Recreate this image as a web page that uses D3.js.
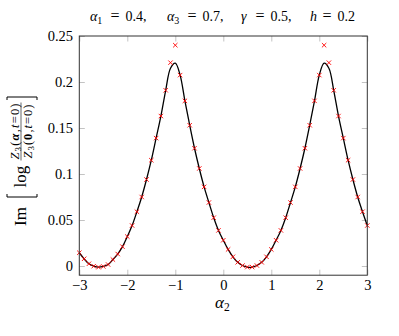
<!DOCTYPE html>
<html>
<head>
<meta charset="utf-8">
<script src="https://cdn.jsdelivr.net/npm/d3@7"></script>
</head>
<body style="margin:0;background:#fff">
<script>
const config = {
  width: 399,
  height: 336,
  left: 79.3,
  right: 367.3,
  top: 36,
  bottom: 275.2,
  font: '"Liberation Serif"'
};

// Data
const markAlpha = [
  -3.0, -2.9, -2.8, -2.7, -2.6, -2.5, -2.4, -2.3, -2.2, -2.1,
  -2.0, -1.9, -1.8, -1.7, -1.6, -1.5, -1.4, -1.3, -1.2, -1.1,
  -1.0, -0.9, -0.8, -0.7, -0.6, -0.5, -0.4, -0.3, -0.2, -0.1,
  0.0, 0.1, 0.2, 0.3, 0.4, 0.5, 0.6, 0.7, 0.8, 0.9,
  1.0, 1.1, 1.2, 1.3, 1.4, 1.5, 1.6, 1.7, 1.8, 1.9,
  2.0, 2.1, 2.2, 2.3, 2.4, 2.5, 2.6, 2.7, 2.8, 2.9, 3.0
];
const markValues = [
  0.0144, 0.0078, 0.0024, -0.0002, -0.0013, -0.0005, 0.0016, 0.007, 0.013, 0.021,
  0.032, 0.044, 0.059, 0.075, 0.094, 0.115, 0.139, 0.163, 0.191, 0.221,
  0.240, 0.2075, 0.1795, 0.153, 0.128, 0.106, 0.086, 0.069, 0.0525, 0.0387,
  0.028, 0.018, 0.010, 0.004, 0.0005, -0.0012, -0.0012, 0.0005, 0.004, 0.010,
  0.018, 0.028, 0.0387, 0.0525, 0.069, 0.086, 0.106, 0.128, 0.153, 0.1795,
  0.2075, 0.240, 0.221, 0.191, 0.163, 0.139, 0.115, 0.094, 0.075, 0.059, 0.044
];
const lineAlpha = markAlpha;
const lineValues = [
  0.0144, 0.0078, 0.0024, -0.0002, -0.0013, -0.0005, 0.0016, 0.007, 0.013, 0.021,
  0.032, 0.044, 0.059, 0.075, 0.094, 0.115, 0.139, 0.163, 0.191, 0.215,
  0.2205, 0.2075, 0.1795, 0.153, 0.128, 0.106, 0.086, 0.069, 0.0525, 0.0387,
  0.028, 0.018, 0.010, 0.004, 0.0005, -0.0012, -0.0012, 0.0005, 0.004, 0.010,
  0.018, 0.028, 0.0387, 0.0525, 0.069, 0.086, 0.106, 0.128, 0.153, 0.1795,
  0.2075, 0.2205, 0.215, 0.191, 0.163, 0.139, 0.115, 0.094, 0.075, 0.059, 0.044
];
const xTicks = [-3, -2, -1, 0, 1, 2, 3];
const xTickLabels = ["\u22123", "\u22122", "\u22121", "0", "1", "2", "3"];
const yTicks = [0, 0.05, 0.1, 0.15, 0.2, 0.25];
const yTickLabels = ["0", "0.05", "0.1", "0.15", "0.2", "0.25"];

// Define the canvas
const svg = d3
  .select("body")
  .append("svg")
  .attr("width", config.width)
  .attr("height", config.height)
  .style("font-family", config.font);

const x = d3.scaleLinear().domain([-3, 3]).range([config.left, config.right]);
const y = d3.scaleLinear().domain([-0.01, 0.25]).range([config.bottom, config.top]);

// Axes (ticks point inward, on all four sides)
const tickLen = 5.5;
const axes = [
  { axis: d3.axisBottom(x).tickValues(xTicks).tickFormat((d, i) => xTickLabels[i]).tickPadding(5), at: `translate(0,${config.bottom})` },
  { axis: d3.axisTop(x).tickValues(xTicks).tickFormat(""), at: `translate(0,${config.top})` },
  { axis: d3.axisLeft(y).tickValues(yTicks).tickFormat((d, i) => yTickLabels[i]).tickPadding(6.3), at: `translate(${config.left},0)` },
  { axis: d3.axisRight(y).tickValues(yTicks).tickFormat(""), at: `translate(${config.right},0)` }
];
axes.forEach(a => {
  const g = svg
    .append("g")
    .attr("transform", a.at)
    .call(a.axis.tickSizeInner(-tickLen).tickSizeOuter(0));
  g.select(".domain").remove();
  g.attr("font-family", null).attr("font-size", null);
  g.selectAll("line").attr("stroke", "#b4b4b4").attr("stroke-width", 0.8);
  g.selectAll("text")
    .style("font-family", config.font)
    .style("font-size", "14.5px")
    .attr("fill", "#000");
});

// Curve
const line = d3
  .line()
  .x((d, i) => x(lineAlpha[i]))
  .y(d => y(d))
  .curve(d3.curveCatmullRom);

svg
  .append("path")
  .attr("d", line(lineValues))
  .attr("fill", "none")
  .attr("stroke", "#000")
  .attr("stroke-width", 1.3);

// Markers
const m = 2.2;
svg
  .append("g")
  .selectAll("path")
  .data(markValues)
  .enter()
  .append("path")
  .attr("transform", (d, i) => `translate(${x(markAlpha[i])},${y(d)})`)
  .attr("d", `M${-m},${-m}L${m},${m}M${-m},${m}L${m},${-m}`)
  .attr("stroke", "#ff0000")
  .attr("stroke-width", 0.9)
  .attr("fill", "none");

// Frame
svg
  .append("rect")
  .attr("x", config.left)
  .attr("y", config.top)
  .attr("width", config.right - config.left)
  .attr("height", config.bottom - config.top)
  .attr("fill", "none")
  .attr("stroke", "#333")
  .attr("stroke-width", 1);

// Adding a title
const title = svg.append("text").attr("y", 20.5).style("font-family", config.font).style("font-size", "14px");
const titleParts = [
  { sym: "\u03b1", sub: "1", x: 90, eq: 110.5, val: "0.4,", vx: 125.5 },
  { sym: "\u03b1", sub: "3", x: 167, eq: 187.5, val: "0.7,", vx: 202.5 },
  { sym: "\u03b3", sub: "", x: 241, eq: 255.5, val: "0.5,", vx: 270.5 },
  { sym: "h", sub: "", x: 310, eq: 322.5, val: "0.2", vx: 337.5 }
];
titleParts.forEach(p => {
  title.append("tspan").attr("x", p.x).attr("y", 20.5).style("font-style", "italic").text(p.sym);
  if (p.sub) title.append("tspan").attr("y", 23.5).style("font-size", "10px").text(p.sub);
  title.append("tspan").attr("x", p.eq).attr("y", 20.5).style("font-size", "16px").text("=");
  title.append("tspan").attr("x", p.vx).attr("y", 20.5).text(p.val);
});

// x label
const xl = svg.append("text").attr("x", 215).attr("y", 308).style("font-family", config.font).style("font-size", "17px");
xl.append("tspan").style("font-style", "italic").text("\u03b1");
xl.append("tspan").attr("dy", 3).style("font-size", "11.5px").text("2");

// y label
const yl = svg.append("g").attr("transform", "translate(21,160) rotate(-90)").style("font-family", config.font);
yl.append("text").attr("x", -66).attr("y", 5).style("font-size", "17px").text("Im");
yl.append("text").attr("x", -27.5).attr("y", 5).style("font-size", "17px").text("log");
yl.append("path")
  .attr("d", "M-34,-14H-37V16H-34M60,-14H63V16H60")
  .attr("fill", "none")
  .attr("stroke", "#000")
  .attr("stroke-width", 1);
yl.append("path")
  .attr("d", "M-0.5,0H57.5")
  .attr("stroke", "#000")
  .attr("stroke-width", 0.6);

const frac = (yPos, arg, bold) => {
  const t = yl
    .append("text")
    .attr("x", 28.5)
    .attr("y", yPos)
    .attr("text-anchor", "middle")
    .style("font-size", "12.5px")
    .attr("textLength", bold === "a" ? 56 : 54)
    .attr("lengthAdjust", "spacing");
  t.append("tspan").style("font-style", "italic").text("Z");
  t.append("tspan").style("font-size", "9px").attr("dy", 2).text("3");
  t.append("tspan").attr("dy", -2).text("(");
  t.append("tspan").style("font-weight", "bold").style("font-style", bold === "a" ? "italic" : "normal").text(arg);
  t.append("tspan").text(",");
  t.append("tspan").style("font-style", "italic").text("t");
  t.append("tspan").text("=0)");
};
frac(-2.5, "\u03b1", "a");
frac(10.5, "0", "0");
</script>
</body>
</html>
